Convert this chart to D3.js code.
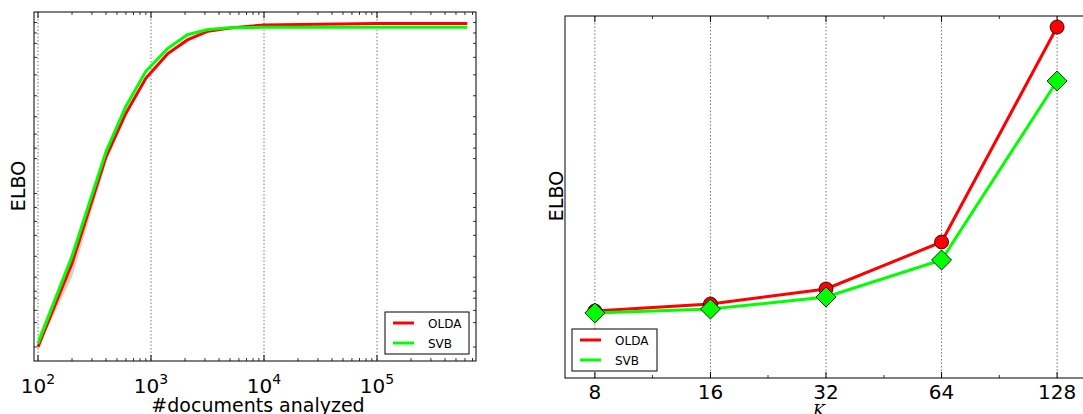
<!DOCTYPE html>
<html><head><meta charset="utf-8">
<script src="https://cdn.jsdelivr.net/npm/d3@7"></script>
<style>body{margin:0;background:#fff}svg{font-family:"DejaVu Sans",sans-serif}</style>
</head><body><svg id="c" width="1083" height="414"></svg>
<script>
const docs=[100,200,400,600,900,1400,2100,3200,5000,10000,100000,630000];
const oldaDocs=[4,28,58.5,71,81,88,92,94.5,95.4,96.3,96.7,96.7];
const svbDocs=[5,30,60,73,83,89.5,93.5,95,95.5,95.6,95.6,95.6];
const bandLo=[4,24,57,70.5,81,88,92,94.5,95.4,96.3,96.7,96.7];
const bandHi=[7,31,59.5,71.5,81,88,92,94.5,95.4,96.3,96.7,96.7];
const Ks=[8,16,32,64,128];
const oldaK=[67,74,89,136,351];
const svbK=[65,69,81,118,297];
const leftYTicks=[4,11,14.5,18,20,24,30,36,40,44,48,58,61,65,70,76,82,87,91,94,97];
const xMajor=[100,1000,10000,100000];
const kMinor=[11.3,22.6,45.3,90.5];

const svg=d3.select("#c");
const L={x0:34,x1:476,y0:12,y1:361};
const lx=d3.scaleLog().domain([Math.pow(10,2-4/113),Math.pow(10,2+438/113)]).range([L.x0,L.x1]);
const ly=d3.scaleLinear().domain([0,100]).range([L.y1,L.y0]);
const gl=svg.append("g");
xMajor.forEach(v=>gl.append("line").attr("x1",lx(v)).attr("x2",lx(v)).attr("y1",L.y0).attr("y2",L.y1).attr("stroke","#555").attr("stroke-dasharray","1.5,2").attr("stroke-width",0.8));
const minors=[];for(let d=100;d<1e6;d*=10)for(let m=2;m<10;m++)if(d*m<lx.domain()[1])minors.push(d*m);
minors.forEach(v=>{[L.y1,L.y0].forEach((y,i)=>gl.append("line").attr("x1",lx(v)).attr("x2",lx(v)).attr("y1",y).attr("y2",i?y+3:y-3).attr("stroke","#000").attr("stroke-width",0.8));});
xMajor.forEach(v=>{[L.y1,L.y0].forEach((y,i)=>gl.append("line").attr("x1",lx(v)).attr("x2",lx(v)).attr("y1",y).attr("y2",i?y+6:y-6).attr("stroke","#000"));});
leftYTicks.forEach(v=>{gl.append("line").attr("x1",L.x0).attr("x2",L.x0+3).attr("y1",ly(v)).attr("y2",ly(v)).attr("stroke","#000").attr("stroke-width",0.8);gl.append("line").attr("x1",L.x1).attr("x2",L.x1-3).attr("y1",ly(v)).attr("y2",ly(v)).attr("stroke","#000").attr("stroke-width",0.8);});
const area=d3.area().x((d,i)=>lx(docs[i])).y0((d,i)=>ly(bandLo[i])).y1((d,i)=>ly(bandHi[i]));
gl.append("path").attr("d",area(docs)).attr("fill","#c8a070").attr("opacity",0.5);
const lineL=d3.line().x((d,i)=>lx(docs[i])).y(d=>ly(d));
gl.append("path").attr("d",lineL(oldaDocs)).attr("fill","none").attr("stroke","#f00").attr("stroke-width",3);
gl.append("path").attr("d",lineL(svbDocs)).attr("fill","none").attr("stroke","#0f0").attr("stroke-width",3);
gl.append("rect").attr("x",L.x0).attr("y",L.y0).attr("width",L.x1-L.x0).attr("height",L.y1-L.y0).attr("fill","none").attr("stroke","#000").attr("stroke-width",1);
xMajor.forEach((v,i)=>{const t=gl.append("text").attr("x",lx(v)).attr("y",393).attr("text-anchor","middle").attr("font-size",20);t.append("tspan").text("10");t.append("tspan").attr("dy",-9).attr("font-size",14).text(String(i+2));});
gl.append("text").attr("x",258).attr("y",412).attr("text-anchor","middle").attr("font-size",19).text("#documents analyzed");
gl.append("text").attr("transform","translate(25,186) rotate(-90)").attr("text-anchor","middle").attr("font-size",19).text("ELBO");
const lg=gl.append("g").attr("transform","translate(385,312)");
lg.append("rect").attr("width",84).attr("height",42).attr("fill","#fff").attr("stroke","#000");
lg.append("line").attr("x1",8).attr("x2",29).attr("y1",11).attr("y2",11).attr("stroke","#f00").attr("stroke-width",3);
lg.append("line").attr("x1",8).attr("x2",29).attr("y1",31).attr("y2",31).attr("stroke","#0f0").attr("stroke-width",3);
lg.append("text").attr("x",43).attr("y",16).attr("font-size",12).text("OLDA");
lg.append("text").attr("x",43).attr("y",36).attr("font-size",12).text("SVB");

const R={x0:565,x1:1083,y0:16,y1:378};
const rx=d3.scaleLog().base(2).domain([8*Math.pow(2,-30/116),128*Math.pow(2,26/116)]).range([R.x0,R.x1]);
const ry=d3.scaleLinear().domain([0,362]).range([R.y1,R.y0]);
const gr=svg.append("g");
Ks.forEach(v=>{gr.append("line").attr("x1",rx(v)).attr("x2",rx(v)).attr("y1",R.y0).attr("y2",R.y1).attr("stroke","#555").attr("stroke-dasharray","1.5,2").attr("stroke-width",0.8);
[R.y1,R.y0].forEach((y,i)=>gr.append("line").attr("x1",rx(v)).attr("x2",rx(v)).attr("y1",y).attr("y2",i?y+6:y-6).attr("stroke","#000"));
gr.append("text").attr("x",rx(v)).attr("y",399).attr("text-anchor","middle").attr("font-size",20).text(v);});
kMinor.forEach(v=>[R.y1,R.y0].forEach((y,i)=>gr.append("line").attr("x1",rx(v)).attr("x2",rx(v)).attr("y1",y).attr("y2",i?y+3:y-3).attr("stroke","#000").attr("stroke-width",0.8)));
const lineR=d3.line().x((d,i)=>rx(Ks[i])).y(d=>ry(d));
gr.append("path").attr("d",lineR(oldaK)).attr("fill","none").attr("stroke","#f00").attr("stroke-width",3);
gr.append("path").attr("d",lineR(svbK)).attr("fill","none").attr("stroke","#0f0").attr("stroke-width",3);
oldaK.forEach((d,i)=>gr.append("circle").attr("cx",rx(Ks[i])).attr("cy",ry(d)).attr("r",7).attr("fill","#f00").attr("stroke","#000").attr("stroke-width",0.8));
svbK.forEach((d,i)=>gr.append("path").attr("d",d3.symbol(d3.symbolSquare,200)()).attr("transform",`translate(${rx(Ks[i])},${ry(d)}) rotate(45)`).attr("fill","#0f0").attr("stroke","#000").attr("stroke-width",0.8));
gr.append("rect").attr("x",R.x0).attr("y",R.y0).attr("width",R.x1-R.x0+5).attr("height",R.y1-R.y0).attr("fill","none").attr("stroke","#000");
gr.append("text").attr("x",819).attr("y",416).attr("text-anchor","middle").attr("font-size",16).attr("font-style","italic").attr("font-family","DejaVu Serif").text("K");
gr.append("text").attr("transform","translate(563,196) rotate(-90)").attr("text-anchor","middle").attr("font-size",19).text("ELBO");
const rg=gr.append("g").attr("transform","translate(572,329)");
rg.append("rect").attr("width",85).attr("height",42).attr("fill","#fff").attr("stroke","#000");
rg.append("line").attr("x1",8).attr("x2",29).attr("y1",11).attr("y2",11).attr("stroke","#f00").attr("stroke-width",3);
rg.append("line").attr("x1",8).attr("x2",29).attr("y1",31).attr("y2",31).attr("stroke","#0f0").attr("stroke-width",3);
rg.append("text").attr("x",43).attr("y",16).attr("font-size",12).text("OLDA");
rg.append("text").attr("x",43).attr("y",36).attr("font-size",12).text("SVB");
</script></body></html>
